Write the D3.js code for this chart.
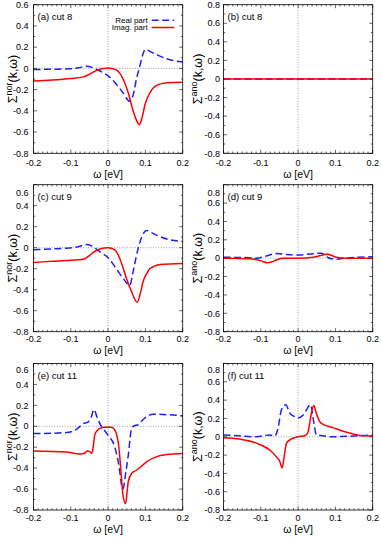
<!DOCTYPE html>
<html><head><meta charset="utf-8">
<script src="https://cdn.jsdelivr.net/npm/d3@7"></script>
<style>
body{margin:0;background:#fff;}
text{font-family:"Liberation Sans",Arial,Helvetica,sans-serif;fill:#000;}
</style>
</head><body>
<svg id="c" width="381" height="537"></svg>
<script>
// ---------- data ----------
const xTicks = [-0.2,-0.1,0,0.1,0.2];
const xTickLabels = ["-0.2","-0.1","0","0.1","0.2"];
const yTicksNor = [-0.8,-0.6,-0.4,-0.2,0,0.2,0.4,0.6];
const yTickLabelsNor = ["-0.8","-0.6","-0.4","-0.2","0","0.2","0.4","0.6"];
const yTicksAno = [-0.8,-0.6,-0.4,-0.2,0,0.2,0.4,0.6,0.8];
const yTickLabelsAno = ["-0.8","-0.6","-0.4","-0.2","0","0.2","0.4","0.6","0.8"];
const panelLabels = ["(a) cut 8","(b) cut 8","(c) cut 9","(d) cut 9","(e) cut 11","(f) cut 11"];
const legendLabels = ["Real part","Imag. part"];

// (a)
const aRealW = [-0.2,-0.15,-0.1,-0.08,-0.057,-0.04,-0.022,0,0.02,0.04,0.058,0.068,0.076,0.085,0.092,0.1,0.115,0.13,0.157,0.2];
const aRealV = [-0.01,-0.008,-0.004,0.005,0.02,0.005,-0.025,-0.07,-0.14,-0.23,-0.31,-0.24,-0.1,0.02,0.12,0.18,0.155,0.13,0.09,0.06];
const aImagW = [-0.2,-0.15,-0.1,-0.067,-0.05,-0.04,-0.025,-0.013,0,0.01,0.022,0.032,0.04,0.054,0.063,0.075,0.084,0.092,0.099,0.112,0.13,0.157,0.2];
const aImagV = [-0.12,-0.11,-0.095,-0.08,-0.055,-0.035,-0.012,-0.002,0.003,0,-0.015,-0.05,-0.1,-0.23,-0.35,-0.48,-0.53,-0.45,-0.34,-0.23,-0.16,-0.135,-0.13];
// (b)
const bRealW = [-0.2,0.2];
const bRealV = [0,0];
const bImagW = [-0.2,0.2];
const bImagV = [0,0];
// (c)
const cRealW = [-0.2,-0.15,-0.112,-0.08,-0.057,-0.04,-0.022,0,0.018,0.04,0.058,0.067,0.074,0.081,0.09,0.103,0.115,0.13,0.157,0.2];
const cRealV = [-0.02,-0.012,-0.005,0.01,0.03,0.01,-0.04,-0.095,-0.18,-0.29,-0.36,-0.23,-0.11,0,0.1,0.165,0.145,0.12,0.083,0.06];
const cImagW = [-0.2,-0.15,-0.1,-0.067,-0.05,-0.04,-0.022,0,0.018,0.031,0.04,0.049,0.063,0.078,0.086,0.094,0.103,0.112,0.14,0.2];
const cImagV = [-0.14,-0.13,-0.12,-0.11,-0.075,-0.045,-0.013,0,-0.02,-0.1,-0.19,-0.29,-0.42,-0.52,-0.44,-0.32,-0.25,-0.2,-0.16,-0.15];
// (d)
const dRealW = [-0.2,-0.13,-0.112,-0.085,-0.058,-0.031,0,0.031,0.063,0.072,0.081,0.092,0.103,0.121,0.2];
const dRealV = [0.01,0.005,0,0.025,0.05,0.04,0.035,0.045,0.055,0.035,0.005,-0.008,-0.012,0,0.015];
const dImagW = [-0.2,-0.13,-0.108,-0.095,-0.081,-0.07,-0.058,-0.04,0,0.04,0.067,0.078,0.09,0.103,0.13,0.2];
const dImagV = [0,-0.005,-0.02,-0.035,-0.05,-0.04,-0.02,0,0,0.01,0.035,0.045,0.03,0.01,0,0];
// (e)
const eRealW = [-0.2,-0.112,-0.085,-0.067,-0.054,-0.045,-0.038,-0.03,-0.022,0,0.018,0.03,0.036,0.04,0.047,0.054,0.063,0.07,0.081,0.09,0.103,0.121,0.2];
const eRealV = [-0.07,-0.06,-0.03,0.025,0.04,0.09,0.16,0.09,0.025,-0.085,-0.2,-0.4,-0.56,-0.6,-0.45,-0.28,-0.02,0.005,0.015,0.05,0.09,0.115,0.1];
const eImagW = [-0.2,-0.112,-0.076,-0.062,-0.056,-0.05,-0.044,-0.04,-0.036,-0.029,-0.022,-0.009,0.009,0.016,0.022,0.027,0.031,0.036,0.04,0.047,0.051,0.054,0.063,0.076,0.09,0.103,0.13,0.157,0.2];
const eImagV = [-0.235,-0.245,-0.265,-0.255,-0.235,-0.24,-0.26,-0.2,-0.085,-0.04,-0.02,-0.01,-0.01,-0.025,-0.07,-0.15,-0.28,-0.5,-0.66,-0.74,-0.62,-0.53,-0.45,-0.42,-0.38,-0.34,-0.29,-0.27,-0.26];
// (f)
const fRealW = [-0.2,-0.158,-0.112,-0.076,-0.063,-0.054,-0.045,-0.033,-0.022,-0.009,0,0.013,0.022,0.033,0.042,0.049,0.067,0.085,0.2];
const fRealV = [0.02,0.01,0,0.02,0.007,0.09,0.29,0.35,0.255,0.22,0.205,0.235,0.29,0.35,0.16,0.02,0.01,0,0.02];
const fImagW = [-0.2,-0.158,-0.112,-0.076,-0.058,-0.049,-0.043,-0.038,-0.031,-0.022,-0.009,0,0.018,0.027,0.033,0.042,0.049,0.058,0.067,0.094,0.121,0.148,0.175,0.2];
const fImagV = [-0.01,-0.025,-0.07,-0.145,-0.22,-0.27,-0.34,-0.235,-0.07,-0.035,-0.01,0,0.01,0.055,0.2,0.34,0.255,0.165,0.135,0.1,0.06,0.03,0.01,0.008];

// ---------- layout ----------
const cols = [{l:33.5,r:182.7,ylabX:17,tickPad:5},{l:223.5,r:372.7,ylabX:202,tickPad:3.5}];
const rows = [{t:4.7,b:153.3,topShift:0,xlab:166.3,title:178},
              {t:184.7,b:331.7,topShift:8,xlab:342.3,title:354},
              {t:363.5,b:510,topShift:6,xlab:521.3,title:533}];

const panels = [
  {r:0,c:0,kind:"nor",real:[aRealW,aRealV],imag:[aImagW,aImagV],legend:true},
  {r:0,c:1,kind:"ano",real:[bRealW,bRealV],imag:[bImagW,bImagV]},
  {r:1,c:0,kind:"nor",real:[cRealW,cRealV],imag:[cImagW,cImagV]},
  {r:1,c:1,kind:"ano",real:[dRealW,dRealV],imag:[dImagW,dImagV]},
  {r:2,c:0,kind:"nor",real:[eRealW,eRealV],imag:[eImagW,eImagV]},
  {r:2,c:1,kind:"ano",real:[fRealW,fRealV],imag:[fImagW,fImagV]},
];

const svg = d3.select("#c");
const BLUE = "#1f1fff", RED = "#ff0000";

panels.forEach((p,i)=>{
  const C = cols[p.c], R = rows[p.r];
  const x = d3.scaleLinear().domain([-0.2,0.2]).range([C.l,C.r]);
  const yDom = p.kind==="nor" ? [-0.8,0.6] : [-0.8,0.8];
  const y = d3.scaleLinear().domain(yDom).range([R.b,R.t]);
  const yT = p.kind==="nor" ? yTicksNor : yTicksAno;
  const yTL = p.kind==="nor" ? yTickLabelsNor : yTickLabelsAno;
  const g = svg.append("g");

  // zero lines
  g.append("line").attr("x1",C.l).attr("x2",C.r).attr("y1",y(0)).attr("y2",y(0))
    .attr("stroke","#888").attr("stroke-width",0.8).attr("stroke-dasharray","1,1.6");
  g.append("line").attr("x1",x(0)).attr("x2",x(0)).attr("y1",R.t).attr("y2",R.b)
    .attr("stroke","#888").attr("stroke-width",0.8).attr("stroke-dasharray","1,1.6");

  // ticks (mirrored, inward)
  const minorX = d3.range(-0.2,0.2001,0.0125);
  const minorY = d3.range(yDom[0],yDom[1]+0.001,0.1);
  const tk = g.append("g").attr("stroke","#000").attr("stroke-width",0.6);
  minorX.forEach(v=>{
    const major = xTicks.some(t=>Math.abs(t-v)<1e-6);
    const L = major?3.5:1.8;
    tk.append("line").attr("x1",x(v)).attr("x2",x(v)).attr("y1",R.b).attr("y2",R.b-L);
    tk.append("line").attr("x1",x(v)).attr("x2",x(v)).attr("y1",R.t).attr("y2",R.t+L);
  });
  minorY.forEach(v=>{
    const major = yT.some(t=>Math.abs(t-v)<1e-6);
    const L = major?3.5:1.8;
    tk.append("line").attr("x1",C.l).attr("x2",C.l+L).attr("y1",y(v)).attr("y2",y(v));
    tk.append("line").attr("x1",C.r).attr("x2",C.r-L).attr("y1",y(v)).attr("y2",y(v));
  });

  // tick labels
  xTicks.forEach((v,k)=>{
    g.append("text").attr("x",x(v)).attr("y",R.xlab).attr("text-anchor","middle")
      .attr("font-size",9).text(xTickLabels[k]);
  });
  yT.forEach((v,k)=>{
    let yy = y(v);
    if (k===yT.length-1) yy += R.topShift;
    g.append("text").attr("x",C.l-C.tickPad).attr("y",yy+3.2).attr("text-anchor","end")
      .attr("font-size",9).text(yTL[k]);
  });

  // axis titles
  g.append("text").attr("x",(C.l+C.r)/2).attr("y",R.title).attr("text-anchor","middle")
    .attr("font-size",10.5).text("ω [eV]");
  const yl = g.append("text").attr("transform",`translate(${C.ylabX},${(R.t+R.b)/2}) rotate(-90)`)
    .attr("text-anchor","middle").attr("font-size",12.5);
  yl.append("tspan").text("Σ");
  yl.append("tspan").attr("font-size",9).attr("dy",-5).text(p.kind);
  yl.append("tspan").attr("dy",5).text("(k,ω)");

  // curves
  const line = d3.line().x(d=>x(d[0])).y(d=>y(d[1])).curve(d3.curveMonotoneX);
  const toPts = s => s[0].map((w,k)=>[w,s[1][k]]);
  g.append("path").attr("d",line(toPts(p.real))).attr("fill","none").attr("stroke",BLUE)
    .attr("stroke-width",1.5).attr("stroke-dasharray","7,3.5");
  g.append("path").attr("d",line(toPts(p.imag))).attr("fill","none").attr("stroke",RED)
    .attr("stroke-width",1.5);

  // frame
  g.append("rect").attr("x",C.l).attr("y",R.t).attr("width",C.r-C.l).attr("height",R.b-R.t)
    .attr("fill","none").attr("stroke","#000").attr("stroke-width",0.8);

  // panel label
  g.append("text").attr("x",C.l+4).attr("y",R.t+15.5).attr("font-size",9.5).text(panelLabels[i]);

  // legend
  if (p.legend){
    const lx = 147.7, l1 = 20.3, l2 = 27.5;
    g.append("text").attr("x",lx).attr("y",l1+2.5).attr("text-anchor","end").attr("font-size",8).text(legendLabels[0]);
    g.append("text").attr("x",lx).attr("y",l2+2.8).attr("text-anchor","end").attr("font-size",8).text(legendLabels[1]);
    g.append("line").attr("x1",151.7).attr("x2",174.3).attr("y1",l1).attr("y2",l1)
      .attr("stroke",BLUE).attr("stroke-width",1.5).attr("stroke-dasharray","7,3.5");
    g.append("line").attr("x1",151.7).attr("x2",174.3).attr("y1",l2).attr("y2",l2)
      .attr("stroke",RED).attr("stroke-width",1.5);
  }
});
</script>
</body></html>
